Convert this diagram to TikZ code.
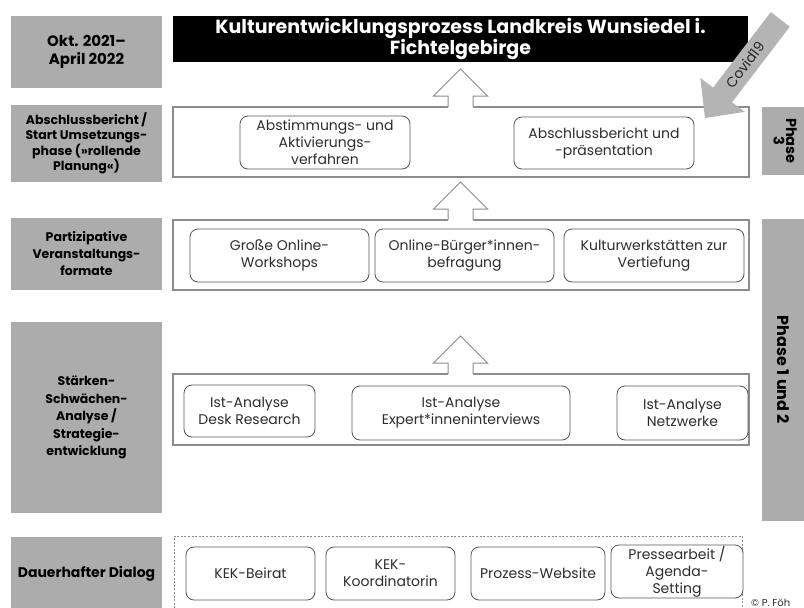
\documentclass[tikz,border=0pt]{standalone}
\usepackage{fontspec}
\setmainfont{Poppins}
\usetikzlibrary{calc}
\definecolor{boxgray}{RGB}{172,172,172}
\definecolor{framegray}{RGB}{140,140,140}
\definecolor{itemgray}{RGB}{85,85,85}
\definecolor{textgray}{RGB}{45,45,45}
\definecolor{covidgray}{RGB}{180,180,180}
\newcommand\blockup[1]{%
  \fill[white] ($(#1)+(-12.5,1)$) -- ($(#1)+(-12.5,-11)$) -- ($(#1)+(-27,-11)$) -- ($(#1)+(0,-38)$)
     -- ($(#1)+(27,-11)$) -- ($(#1)+(12.5,-11)$) -- ($(#1)+(12.5,1)$) -- cycle;
  \draw[arrline] ($(#1)+(-12.5,0)$) -- ($(#1)+(-12.5,-11)$) -- ($(#1)+(-27,-11)$) -- ($(#1)+(0,-38)$)
     -- ($(#1)+(27,-11)$) -- ($(#1)+(12.5,-11)$) -- ($(#1)+(12.5,0)$);}
\tikzset{
  lbl/.style={fill=boxgray, draw=none, inner sep=0pt, outer sep=0pt, align=center, text=black,
     minimum width=151pt, font=\bfseries\fontsize{12.5}{17}\selectfont},
  stage/.style={draw=framegray, line width=1.2pt, fill=white, inner sep=0pt, outer sep=0pt,
     minimum width=576pt, minimum height=70pt},
  item/.style={draw=itemgray, rounded corners=8pt, line width=0.8pt, fill=white, align=center,
     inner sep=0pt, outer sep=0pt, text=textgray, font=\fontsize{14}{17}\selectfont, minimum height=53pt},
  phase/.style={fill=boxgray, inner sep=0pt, outer sep=0pt, minimum width=42pt, align=center,
     font=\bfseries\fontsize{14.5}{15}\selectfont, text=black},
  arrline/.style={draw=framegray, line width=1pt, line join=miter},
}
\begin{document}
\begin{tikzpicture}[x=1pt,y=-1pt]
\useasboundingbox (0,0) rectangle (804,608);
\clip (0,0) rectangle (804,608);
% left labels
\node[lbl, minimum height=72pt, font=\bfseries\fontsize{15}{17.5}\selectfont] (l1) at (86.5,52) {Okt. 2021–\\April 2022};
\node[lbl, minimum height=77pt, font=\bfseries\fontsize{12.5}{14.5}\selectfont] (l2) at (86.5,143.5) {Abschlussbericht /\\Start Umsetzungs-\\phase (»rollende\\Planung«)};
\node[lbl, minimum height=72pt] (l3) at (86.5,254) {Partizipative\\Veranstaltungs-\\formate};
\node[lbl, minimum height=191pt, font=\bfseries\fontsize{12.5}{17.5}\selectfont] (l4) at (86.5,417.5) {Stärken-\\Schwächen-\\Analyse /\\Strategie-\\entwicklung};
\node[lbl, minimum height=74pt, font=\bfseries\fontsize{14}{17}\selectfont] (l5) at (86.5,574) {Dauerhafter Dialog};
% title
\node[fill=black, text=white, minimum width=575pt, minimum height=46pt, inner sep=0pt, outer sep=0pt,
  align=center, font=\bfseries\fontsize{19}{21}\selectfont] (title) at (460.5,39)
  {Kulturentwicklungsprozess Landkreis Wunsiedel i.\\Fichtelgebirge};
% stages
\node[stage] (p3) at (461,142) {};
\node[stage] (p2) at (461,255) {};
\node[stage, minimum height=71pt] (p1) at (461,409.5) {};
\draw[framegray, line width=1pt, dash pattern=on 2pt off 1.6pt] (174,612) -- (174,536) coordinate (dtl) -- (742,536) -- (742,612);
% items
\node[item, minimum width=170pt] (a1) at (325,142.5) {Abstimmungs- und\\Aktivierungs-\\verfahren};
\node[item, minimum width=180pt, minimum height=52pt] (a2) at (604,143) {Abschlussbericht und\\-präsentation};
\node[item, minimum width=179pt] (b1) at (279.5,255.5) {Große Online-\\Workshops};
\node[item, minimum width=179pt] (b2) at (464.5,255.5) {Online-Bürger*innen-\\befragung};
\node[item, minimum width=180pt] (b3) at (654,255.5) {Kulturwerkstätten zur\\Vertiefung};
\node[item, minimum width=131pt, minimum height=52pt] (c1) at (249.5,411) {Ist-Analyse\\Desk Research};
\node[item, minimum width=218pt, minimum height=54pt] (c2) at (461,413) {Ist-Analyse\\Expert*inneninterviews};
\node[item, minimum width=131pt, minimum height=54pt] (c3) at (682.5,413) {Ist-Analyse\\Netzwerke};
\node[item, minimum width=129pt] (d1) at (250.5,573.5) {KEK-Beirat};
\node[item, minimum width=129pt] (d2) at (390.5,573.5) {KEK-\\Koordinatorin};
\node[item, minimum width=134pt] (d3) at (538,573.5) {Prozess-Website};
\node[item, minimum width=132pt] (d4) at (677,571.5) {Pressearbeit /\\Agenda-\\Setting};
% phase labels
\node[phase, minimum height=68pt] (r1) at (783,141) {\rotatebox{-90}{\begin{tabular}{@{}c@{}}Phase\\[-3pt]3\end{tabular}}};
\node[phase, minimum height=302pt, font=\bfseries\fontsize{16}{18}\selectfont] (r2) at (783,370) {\rotatebox{-90}{Phase 1 und 2}};
% block arrows
\coordinate (ax) at (460.5,0);
\blockup{p3.north -| ax}
\blockup{p2.north -| ax}
\blockup{p1.north -| ax}
% covid arrow
\fill[covidgray] (705,118) -- (744.9,111.9) -- (732.1,102.2) -- (789.8,26.7) -- (770.8,12.1)
  -- (713.1,87.6) -- (700.3,77.9) -- cycle;
\node[rotate=52.6, text=black!85, font=\fontsize{14}{15}\selectfont, inner sep=0pt] (covid) at (745,65) {Covid19};
% copyright
\node[anchor=base west, inner sep=0pt, text=textgray, font=\fontsize{10}{11}\selectfont] (copy) at (751,606) {© P. Föh};
\end{tikzpicture}
\end{document}
